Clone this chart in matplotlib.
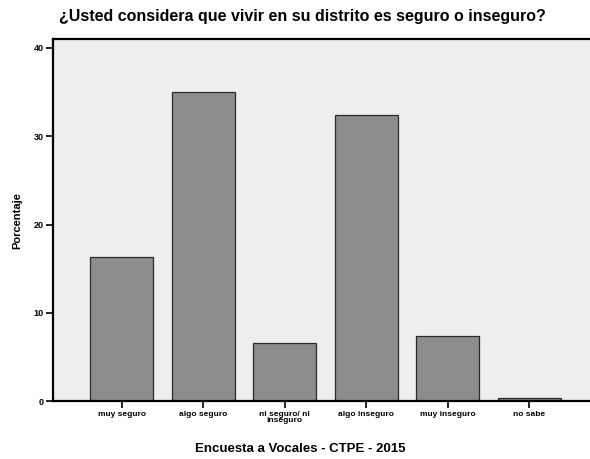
import numpy as np
import matplotlib.pyplot as plt

# Percentajes por categoria
categorias = ['muy seguro', 'algo seguro', 'ni seguro/ ni\ninseguro',
              'algo inseguro', 'muy inseguro', 'no sabe']
porcentajes = [16.3, 35.0, 6.6, 32.4, 7.4, 0.4]
ticks_y = [0, 10, 20, 30, 40]

titulo = '¿Usted considera que vivir en su distrito es seguro o inseguro?'
etiqueta_x = 'Encuesta a Vocales - CTPE - 2015'
etiqueta_y = 'Porcentaje'


def main():
  plt.rcParams['font.family'] = ['Liberation Sans', 'DejaVu Sans']

  fig = plt.figure(figsize=(5.9, 4.59), dpi=100)
  ax = fig.add_axes([0.09, 0.126, 0.915, 0.789])

  x = np.arange(len(categorias))
  ax.bar(x, porcentajes, width=0.77, color='#8c8c8c',
         edgecolor='#2a2a2a', linewidth=0.9, zorder=2)

  ax.set_facecolor('#eeeeee')
  ax.set_xlim(-0.84, 5.78)
  ax.set_ylim(0, 41)

  ax.set_xticks(x)
  ax.set_xticklabels(categorias, fontsize=6, fontweight='bold', linespacing=0.85)
  ax.set_yticks(ticks_y)
  ax.set_yticklabels([str(t) for t in ticks_y], fontsize=6.5, fontweight='bold')
  ax.tick_params(axis='both', direction='out', length=5, width=1.2, pad=2)

  for s in ax.spines.values():
    s.set_linewidth(1.6)
    s.set_color('black')
  ax.spines['right'].set_visible(False)

  ax.set_ylabel(etiqueta_y, fontsize=8, fontweight='bold', labelpad=8)
  ax.set_xlabel(etiqueta_x, fontsize=9.5, fontweight='bold')
  # centrar la etiqueta del eje x bajo las barras
  ax.xaxis.set_label_coords(0.458, -0.115)
  fig.text(0.513, 0.963, titulo, ha='center', va='center',
           fontsize=11.5, fontweight='bold')

  fig.savefig('out.png', dpi=100)


if __name__ == "__main__":
  main()
